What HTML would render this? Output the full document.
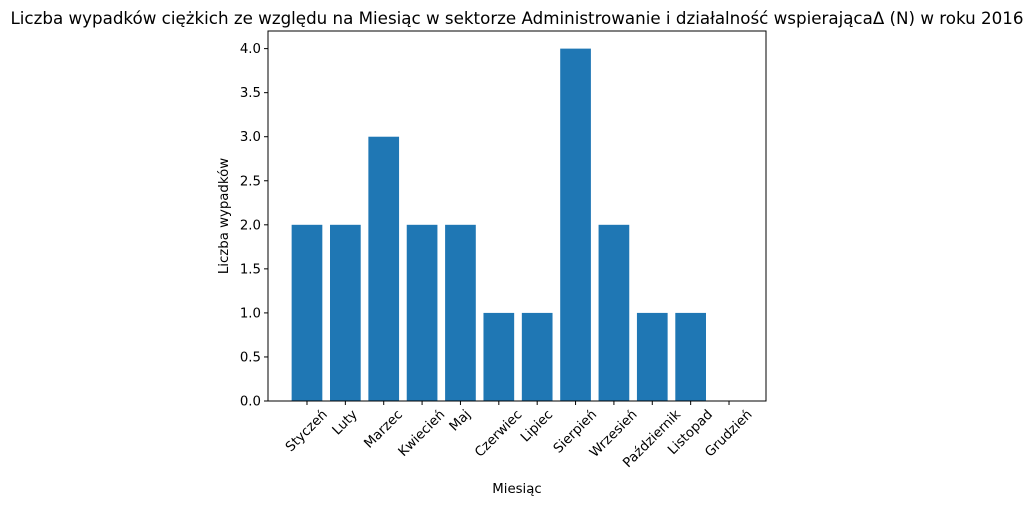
<!DOCTYPE html>
<html><head><meta charset="utf-8"><style>
body{margin:0;background:#fff;font-family:"Liberation Sans","DejaVu Sans",sans-serif;}
svg text{font-family:"DejaVu Sans","Liberation Sans",sans-serif;}
</style></head><body>
<svg id="chart" width="1035" height="506" xmlns="http://www.w3.org/2000/svg">
<text x="517" y="24" text-anchor="middle" font-size="16.7" fill="#000">Liczba wypadków ciężkich ze względu na Miesiąc w sektorze Administrowanie i działalność wspierającaΔ (N) w roku 2016</text>
<g id="bars"></g><g id="xticks"></g><g id="yticks"></g>
<rect x="268" y="31" width="498" height="370" fill="none" stroke="#000" stroke-width="1"/>
<text x="517" y="493" text-anchor="middle" font-size="13.3">Miesiąc</text>
<text transform="translate(228,216) rotate(-90)" text-anchor="middle" font-size="13.3">Liczba wypadków</text>
</svg>
<script>
const categories=["Styczeń","Luty","Marzec","Kwiecień","Maj","Czerwiec","Lipiec","Sierpień","Wrzesień","Październik","Listopad","Grudzień"];
const values=[2,2,3,2,2,1,1,4,2,1,1,0];
const yTicks=[0,0.5,1,1.5,2,2.5,3,3.5,4];
const yTickLabels=["0.0","0.5","1.0","1.5","2.0","2.5","3.0","3.5","4.0"];
const NS="http://www.w3.org/2000/svg";
const L=268,R=766,T=31,B=401;
const xmin=-0.99,xmax=11.99,ymin=0,ymax=4.2;
const xs=v=>L+1+(v-xmin)/(xmax-xmin)*(R-L);
const ys=v=>B-(v-ymin)/(ymax-ymin)*(B-T);
function mk(t,a){const e=document.createElementNS(NS,t);for(const k in a)e.setAttribute(k,a[k]);return e;}
const gb=document.getElementById('bars'),gx=document.getElementById('xticks'),gy=document.getElementById('yticks');
categories.forEach((c,i)=>{
 const r=mk('rect',{x:xs(i-0.4),y:ys(values[i]),width:xs(i+0.4)-xs(i-0.4),height:ys(0)-ys(values[i]),fill:'#1f77b4'});
 
 
 gb.appendChild(r);
 const x=xs(i);
 const tk=mk('line',{x1:x,x2:x,y1:B,y2:B+4,stroke:'#000'});
 
 
 gx.appendChild(tk);
 const t=mk('text',{'text-anchor':'middle','font-size':'13.3','dominant-baseline':'central'});
 t.textContent=c;
 
 
 gx.appendChild(t);
 const w=t.getComputedTextLength(),h=13.3;
 const bh=(w+h)*0.7071;
 const cy=B+7+bh/2;
 t.setAttribute('transform',`translate(${x},${cy}) rotate(-45)`);
});
yTicks.forEach((v,i)=>{
 const y=ys(v);
 const tk=mk('line',{x1:L-4,x2:L,y1:y,y2:y,stroke:'#000'});
 
 
 gy.appendChild(tk);
 const t=mk('text',{x:L-7,y:y+4.5,'text-anchor':'end','font-size':'13.3'});
 t.textContent=yTickLabels[i];
 
 
 gy.appendChild(t);
});
</script>
</body></html>
